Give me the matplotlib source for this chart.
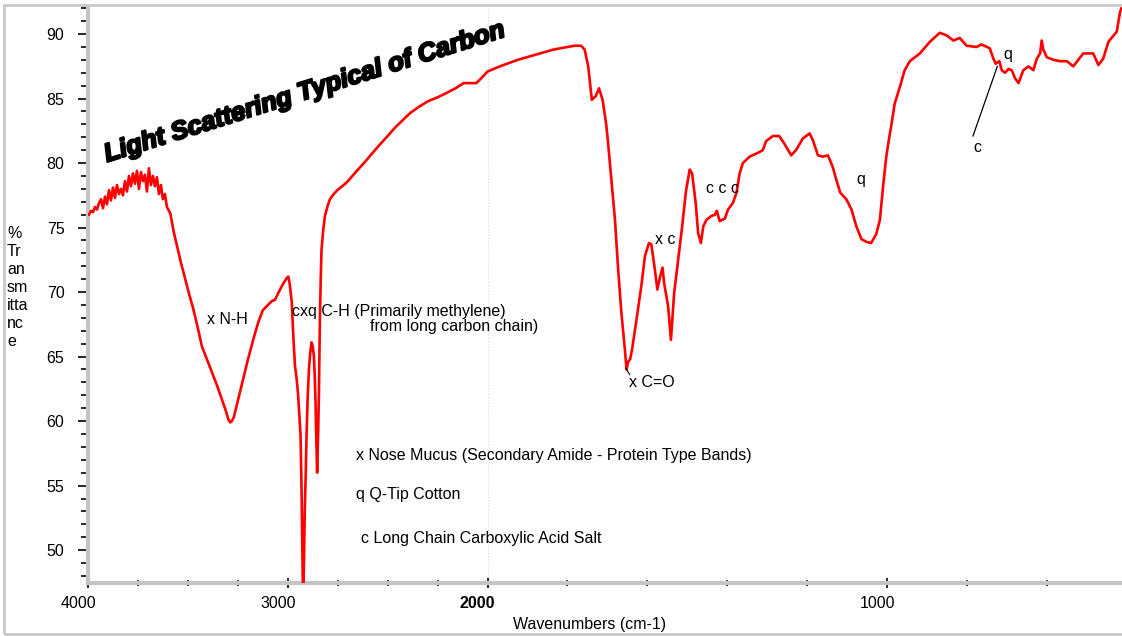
import matplotlib
matplotlib.use("Agg")
import matplotlib.pyplot as plt
import matplotlib.patheffects as pe
import numpy as np
from matplotlib.patches import Rectangle
from matplotlib.transforms import ScaledTranslation

plt.rcParams["font.family"] = ["Liberation Sans", "DejaVu Sans"]

# spectrum (wavenumber cm-1, % transmittance)
wavenumbers = [
    3995, 3985, 3975, 3965, 3955, 3945, 3935, 3925, 3915, 3905,
    3895, 3885, 3875, 3865, 3855, 3845, 3835, 3825, 3815, 3805,
    3795, 3785, 3775, 3765, 3755, 3745, 3735, 3725, 3715, 3705,
    3695, 3685, 3675, 3665, 3655, 3645, 3635, 3625, 3615, 3605,
    3588, 3570, 3555, 3535, 3513, 3493, 3473, 3450, 3430, 3405,
    3380, 3355, 3330, 3310, 3297, 3288, 3280, 3270, 3248, 3225,
    3199, 3175, 3149, 3125, 3099, 3080, 3064, 3045, 3025, 3005,
    2997, 2990, 2980, 2972, 2964, 2955, 2948, 2940, 2936, 2931,
    2927, 2923, 2919, 2915, 2910, 2906, 2900, 2893, 2886, 2881,
    2875, 2869, 2865, 2861, 2857, 2853, 2848, 2844, 2839, 2835,
    2831, 2822, 2814, 2800, 2789, 2770, 2752, 2720, 2699, 2660,
    2619, 2580, 2547, 2500, 2460, 2420, 2386, 2340, 2297, 2250,
    2210, 2160, 2120, 2085, 2056, 2030, 2000, 1969, 1925, 1880,
    1835, 1800, 1782, 1766, 1757, 1748, 1739, 1729, 1721, 1712,
    1703, 1699, 1690, 1681, 1673, 1665, 1657, 1652, 1648, 1643,
    1638, 1627, 1615, 1606, 1596, 1590, 1581, 1575, 1568, 1562,
    1558, 1548, 1541, 1533, 1523, 1514, 1503, 1494, 1488, 1479,
    1473, 1466, 1460, 1452, 1440, 1431, 1426, 1419, 1406, 1398,
    1386, 1377, 1369, 1361, 1344, 1323, 1311, 1303, 1286, 1270,
    1257, 1240, 1228, 1211, 1194, 1186, 1173, 1161, 1148, 1136,
    1127, 1117, 1102, 1089, 1077, 1064, 1052, 1040, 1027, 1018,
    1010, 1002, 994, 990, 981, 968, 956, 943, 918, 893,
    868, 851, 834, 818, 801, 776, 764, 743, 734, 728,
    719, 713, 705, 696, 688, 680, 671, 659, 646, 634,
    625, 617, 613, 609, 600, 583, 567, 550, 534, 509,
    484, 471, 459, 446, 425, 417, 412,
]
transmittance = [
    76.0, 76.3, 76.2, 76.6, 76.4, 76.9, 77.2, 76.5, 77.4, 76.8,
    77.9, 77.1, 78.1, 77.3, 78.3, 77.6, 78.0, 77.5, 78.6, 77.8,
    79.0, 78.2, 79.2, 78.4, 79.4, 78.0, 79.3, 78.6, 79.1, 77.8,
    79.6, 78.3, 79.0, 78.2, 78.9, 77.6, 78.3, 77.2, 77.6, 76.6,
    76.1, 74.6, 73.6, 72.3, 71.0, 69.8, 68.7, 67.2, 65.8, 64.8,
    63.8, 62.8, 61.7, 60.8, 60.1, 59.9, 60.0, 60.3, 61.7, 63.2,
    64.8, 66.2, 67.6, 68.6, 69.0, 69.3, 69.4, 70.0, 70.6, 71.1,
    71.2, 70.6, 69.2, 66.5, 64.3, 63.2, 62.0, 60.0, 58.9, 54.7,
    50.0, 46.0, 49.0, 53.0, 56.0, 58.9, 62.0, 64.3, 65.5, 66.1,
    65.8, 65.0, 63.5, 61.5, 58.5, 56.0, 59.0, 62.2, 68.1, 71.0,
    73.3, 74.9, 75.9, 76.7, 77.2, 77.6, 77.9, 78.3, 78.6, 79.3,
    80.0, 80.7, 81.3, 82.1, 82.8, 83.4, 83.9, 84.4, 84.8, 85.1,
    85.4, 85.8, 86.2, 86.2, 86.2, 86.6, 87.1, 87.5, 88.0, 88.4,
    88.8, 89.0, 89.1, 89.1, 88.8, 87.5, 84.9, 85.2, 85.8, 84.9,
    83.0, 81.8, 78.7, 75.6, 71.7, 68.4, 65.8, 64.0, 64.6, 64.8,
    65.6, 67.9, 70.5, 72.8, 73.8, 73.7, 71.7, 70.2, 71.2, 71.9,
    70.7, 68.9, 66.3, 69.9, 72.5, 74.8, 77.9, 79.5, 79.2, 76.9,
    74.6, 73.8, 75.1, 75.6, 75.9, 76.0, 76.3, 75.5, 75.7, 76.4,
    76.9, 77.7, 79.2, 80.0, 80.5, 80.8, 81.0, 81.7, 82.1, 82.1,
    81.5, 80.6, 81.0, 81.9, 82.3, 81.8, 80.6, 80.5, 80.6, 79.7,
    78.7, 77.7, 77.2, 76.4, 75.1, 74.1, 73.9, 73.8, 74.5, 75.6,
    78.2, 80.5, 82.1, 82.8, 84.6, 85.9, 87.2, 87.9, 88.5, 89.4,
    90.1, 89.9, 89.5, 89.7, 89.1, 89.0, 89.2, 88.9, 88.1, 87.7,
    87.9, 87.2, 87.0, 87.3, 87.2, 86.6, 86.2, 87.2, 87.5, 87.2,
    88.1, 88.5, 89.5, 88.8, 88.2, 88.0, 87.9, 87.9, 87.5, 88.5,
    88.5, 87.6, 88.1, 89.4, 90.2, 91.7, 92.1,
]

x_major = [4000, 3000, 2000, 1000]
x_minor = [3750, 3500, 3250, 2750, 2500, 2250, 1800, 1600, 1400, 1200, 800, 600]
x_labels = ["4000", "3000", "2000", "1000"]
y_major = [50, 55, 60, 65, 70, 75, 80, 85, 90]
y_minor = list(range(48, 93))

# peak labels: (wavenumber, %T, text)
peak_labels = [
    (3406, 67.9, "x N-H"),
    (2981, 68.5, "cxq C-H (Primarily methylene)"),
    (2587, 67.3, "from long carbon chain)"),
    (1645, 63.0, "x C=O"),
    (1580, 74.1, "x c"),
    (1452, 78.0, "c c c"),
    (1077, 78.7, "q"),
    (709, 88.4, "q"),
    (784, 81.2, "c"),
]
key_labels = [
    (2657, 57.3, "x Nose Mucus (Secondary Amide - Protein Type Bands)"),
    (2657, 54.3, "q Q-Tip Cotton"),
    (2632, 50.9, "c Long Chain Carboxylic Acid Salt"),
]

FS = 11.5


def fwd(w):
    w = np.asarray(w, dtype=float)
    return np.where(w > 2000, 2000 + (w - 2000) / 2, w)


def inv(u):
    u = np.asarray(u, dtype=float)
    return np.where(u > 2000, 2000 + (u - 2000) * 2, u)


W, H = 1122, 636
fig = plt.figure(figsize=(W / 100, H / 100), dpi=100)
ax = fig.add_axes([88 / W, (H - 583) / H, 1 - 88 / W, (583 - 7) / H])
ax.set_xscale("function", functions=(fwd, inv))
ax.set_xlim(4000, 412)
ax.set_ylim(47.45, 92.1)

ax.axvline(2000, color="#d8d8d8", lw=0.8, ls=":", zorder=0)
ax.plot(wavenumbers, transmittance, color="#ff0000", lw=1.9, zorder=3)

ax.set_xticks(x_major)
ax.set_xticks(x_minor, minor=True)
ax.set_xticklabels(x_labels, fontsize=FS)
ax.set_yticks(y_major)
ax.set_yticks(y_minor, minor=True)
ax.tick_params(axis="y", which="major", direction="out", length=7, width=1.2, pad=10, labelsize=FS)
ax.tick_params(axis="y", which="minor", direction="out", length=5, width=1.2)
ax.tick_params(axis="x", which="major", direction="inout", length=7, width=1.2, pad=6)
ax.tick_params(axis="x", which="minor", direction="inout", length=5, width=1.2)
for lab in ax.get_xticklabels():
    lab.set_transform(lab.get_transform() + ScaledTranslation(-0.10, 0, fig.dpi_scale_trans))
    if lab.get_text() == "2000":
        lab.set_fontweight("bold")

for side in ("top", "right"):
    ax.spines[side].set_visible(False)
for side in ("left", "bottom"):
    ax.spines[side].set_color("#c4c4c4")
    ax.spines[side].set_linewidth(3)

for w, t, s in peak_labels + key_labels:
    ax.text(w, t, s, fontsize=FS, ha="left", va="center", zorder=4)

# little pointer lines
ax.plot([1654, 1644], [64.1, 63.6], color="black", lw=0.8, zorder=4)
ax.plot([785, 724], [82.1, 87.5], color="black", lw=0.9, zorder=4)

fig.text(107 / W, 1 - 162 / H, "Light Scattering Typical of Carbon",
         fontsize=18.5, fontweight="heavy", fontstyle="italic",
         rotation=17.5, rotation_mode="anchor", ha="left", va="baseline",
         path_effects=[pe.withStroke(linewidth=1.6, foreground="black")])

fig.text(7 / W, 1 - 288 / H, "%\nTr\nan\nsm\nitta\nnc\ne", fontsize=FS,
         ha="left", va="center", linespacing=1.25)
fig.text(590 / W, 1 - 624 / H, "Wavenumbers (cm-1)", fontsize=FS, ha="center", va="center")

fig.add_artist(Rectangle((4 / W, 2 / H), 1.2, 629 / H, transform=fig.transFigure,
                         fill=False, ec="#c8c8c8", lw=2, clip_on=False))

fig.savefig("out.png", dpi=100)
plt.close(fig)
